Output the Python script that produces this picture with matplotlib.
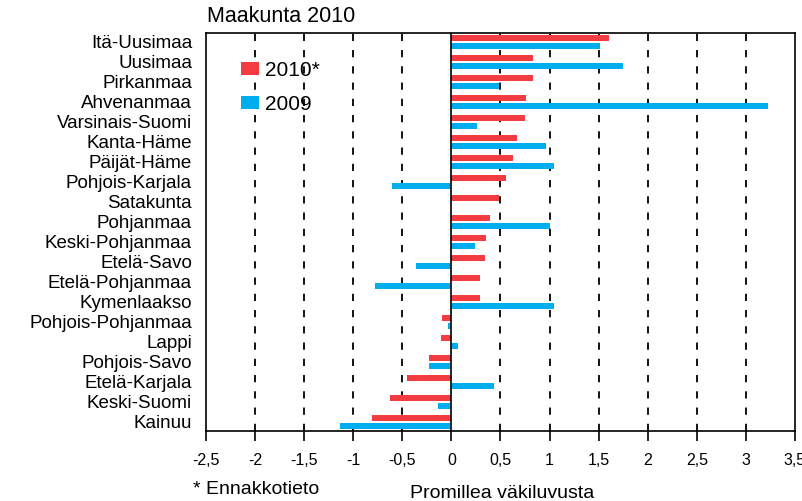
import matplotlib
matplotlib.use("Agg")
import matplotlib.pyplot as plt
import numpy as np

regions = ["Itä-Uusimaa", "Uusimaa", "Pirkanmaa", "Ahvenanmaa", "Varsinais-Suomi",
           "Kanta-Häme", "Päijät-Häme", "Pohjois-Karjala", "Satakunta", "Pohjanmaa",
           "Keski-Pohjanmaa", "Etelä-Savo", "Etelä-Pohjanmaa", "Kymenlaakso",
           "Pohjois-Pohjanmaa", "Lappi", "Pohjois-Savo", "Etelä-Karjala",
           "Keski-Suomi", "Kainuu"]
v2010 = [1.61, 0.83, 0.83, 0.76, 0.75, 0.67, 0.63, 0.56, 0.48, 0.39,
         0.35, 0.34, 0.29, 0.29, -0.10, -0.11, -0.23, -0.45, -0.63, -0.81]
v2009 = [1.51, 1.75, 0.48, 3.23, 0.26, 0.96, 1.04, -0.61, 0.0, 1.00,
         0.24, -0.36, -0.78, 1.04, -0.03, 0.07, -0.23, 0.43, -0.14, -1.14]
xticks = [-2.5, -2, -1.5, -1, -0.5, 0, 0.5, 1, 1.5, 2, 2.5, 3, 3.5]
xticklabels = ["-2,5", "-2", "-1,5", "-1", "-0,5", "0", "0,5", "1", "1,5", "2", "2,5", "3", "3,5"]

plt.rcParams['font.family'] = ['Liberation Sans', 'DejaVu Sans']

fig = plt.figure(figsize=(8.03, 5.01), dpi=100)
ax = fig.add_axes([206/803, 1-431/501, 589/803, 398/501])

red = '#F23C41'
blue = '#00AEEF'
y = np.arange(len(regions))
h = 0.32
ax.barh(y - h/2 - 0.05, v2010, height=h, color=red, label='2010*', zorder=3)
ax.barh(y + h/2 + 0.05, v2009, height=h, color=blue, label='2009', zorder=3)

ax.set_xlim(-2.5, 3.5)
ax.set_ylim(19.45, -0.45)
ax.set_xticks(xticks)
ax.set_xticklabels(xticklabels, fontsize=11.5)
ax.set_yticks(y)
ax.set_yticklabels(regions, fontsize=13.5)
ax.tick_params(axis='y', length=0, pad=10)
ax.tick_params(axis='x', length=7, width=1.2, direction='out', pad=9, colors='black')

for xv in xticks[1:-1]:
    if xv == 0:
        ax.axvline(0, color='black', lw=1.2, zorder=4)
    else:
        ax.axvline(xv, color='black', lw=1.3, ls=(0, (4, 5)), zorder=1)

for s in ax.spines.values():
    s.set_color('black')
    s.set_linewidth(1.2)

leg = ax.legend(loc='upper left', bbox_to_anchor=(0.028, 0.978), frameon=False,
                fontsize=15, handlelength=0.85, handleheight=0.6,
                handletextpad=0.3, labelspacing=0.75)

fig.text(207/803, 1-16/501, "Maakunta 2010", fontsize=15.5, va='center', ha='left')
fig.text(193/803, 1-490/501, "* Ennakkotieto", fontsize=14, va='center', ha='left')
fig.text(502/803, 1-493/501, "Promillea väkiluvusta", fontsize=14, va='center', ha='center')

fig.savefig("out.png", dpi=100)
